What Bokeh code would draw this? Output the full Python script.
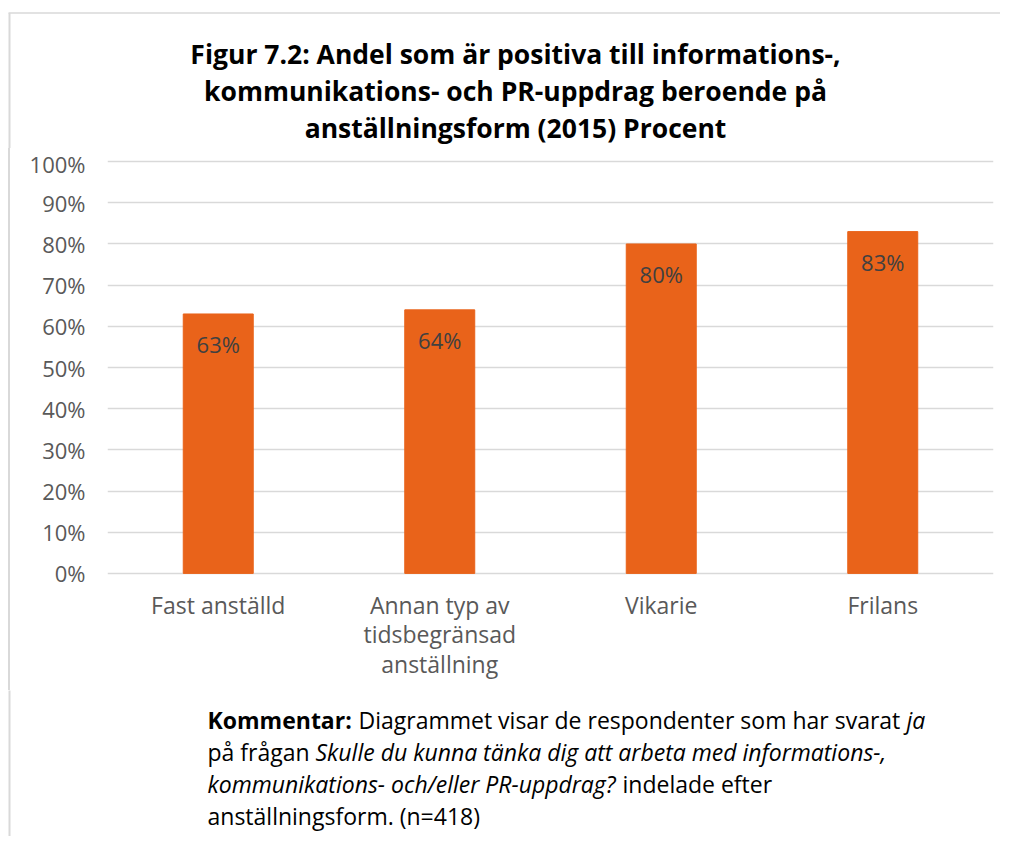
from bokeh.plotting import figure
from bokeh.models import FixedTicker, PrintfTickFormatter, ColumnDataSource, Range1d, Spacer
from bokeh.layouts import column, row
from bokeh.embed import file_html
from bokeh.resources import INLINE
from bokeh.core.properties import value

# ---- data ----
categories = ["Fast anställd", "Annan typ av\ntidsbegränsad\nanställning", "Vikarie", "Frilans"]
values = [63, 64, 80, 83]
value_labels = ["63%", "64%", "80%", "83%"]
y_ticks = [0, 10, 20, 30, 40, 50, 60, 70, 80, 90, 100]

title_lines = [
    "Figur 7.2: Andel som är positiva till informations-,",
    "kommunikations- och PR-uppdrag beroende på",
    "anställningsform (2015) Procent",
]

# comment segments
comment_texts = ["Kommentar:", "Diagrammet visar de respondenter som har svarat", "ja",
                 "på frågan", "Skulle du kunna tänka dig att arbeta med informations-,",
                 "kommunikations- och/eller PR-uppdrag?", "indelade efter",
                 "anställningsform. (n=418)"]
comment_styles = ["bold", "normal", "italic", "normal", "italic", "italic", "normal", "normal"]
comment_lines = [0, 0, 0, 1, 1, 2, 2, 3]

# ---- layout constants (page pixels) ----
W, H = 1000, 836
TOP_H = 148            # title strip height
MID_H = 542            # chart strip height
BOT_H = H - TOP_H - MID_H
STRIP_W = 20
FRAME_L, FRAME_R, FRAME_T, FRAME_B = 107, 993, 157, 577
ORANGE = "#E9631A"
GRID = "#D9D9D9"
GRAY_TXT = "#595959"
TICK_FONT = "Open Sans"
BORDER_X, BORDER_Y = 9, 12.5
comment_x = [207, 358, 906, 207, 315, 207, 622, 207]


def pixel_fig(w, h, y0, y1):
    f = figure(width=w, height=h, x_range=Range1d(0, w), y_range=Range1d(y1, y0),
               x_axis_type=None, y_axis_type=None, output_backend="svg",
               toolbar_location=None, min_border=0)
    f.outline_line_color = None
    f.grid.visible = False
    f.background_fill_color = "white"
    f.border_fill_color = "white"
    return f


# ---- title strip ----
pt = pixel_fig(W, TOP_H, 0, TOP_H)
pt.line(x=[BORDER_X - 1, W + 5], y=[BORDER_Y, BORDER_Y], line_color=GRID, line_width=1.5)
pt.line(x=[BORDER_X, BORDER_X], y=[BORDER_Y, TOP_H + 5], line_color=GRID, line_width=2)
tsrc = ColumnDataSource(dict(x=[515] * len(title_lines),
                             y=[53 + 37 * i for i in range(len(title_lines))],
                             t=title_lines))
pt.text(x="x", y="y", text="t", source=tsrc, text_align="center",
        text_baseline="alphabetic", text_font=value("Open Sans"),
        text_font_style="bold", text_font_size="26.5px", text_color="black")

# ---- left border for the chart strip ----
sp1 = Spacer(width=BORDER_X - 1, height=MID_H)
sp_line = Spacer(width=2, height=MID_H, styles={"background-color": GRID})
sp2 = Spacer(width=STRIP_W - BORDER_X - 1, height=MID_H)

# ---- main chart ----
p = figure(width=W - STRIP_W, height=MID_H, x_range=categories, y_range=Range1d(-1, 101),
           output_backend="svg", toolbar_location=None,
           min_border_left=FRAME_L - STRIP_W, min_border_right=W - FRAME_R,
           min_border_top=FRAME_T - TOP_H, min_border_bottom=TOP_H + MID_H - FRAME_B)
p.outline_line_color = None
p.background_fill_color = "white"
p.border_fill_color = "white"

src = ColumnDataSource(dict(cat=categories, val=values, lab=value_labels))
p.vbar(x="cat", top="val", width=0.316, source=src, fill_color=ORANGE, line_color=ORANGE)
p.text(x="cat", y="val", text="lab", source=src, text_align="center",
       text_baseline="middle", y_offset=30, text_font=value(TICK_FONT),
       text_font_size="22px", text_color="#404040")

p.yaxis.ticker = FixedTicker(ticks=y_ticks)
p.yaxis.formatter = PrintfTickFormatter(format="%d%%")
p.yaxis.axis_line_color = None
p.yaxis.major_tick_line_color = None
p.yaxis.minor_tick_line_color = None
p.yaxis.major_tick_out = 0
p.yaxis.major_label_standoff = 22
p.yaxis.major_label_text_font = TICK_FONT
p.yaxis.major_label_text_font_size = "22px"
p.yaxis.major_label_text_color = GRAY_TXT

p.xaxis.axis_line_color = None
p.xaxis.major_tick_line_color = None
p.xaxis.major_tick_out = 0
p.xaxis.major_label_standoff = 11
p.xaxis.major_label_text_font = TICK_FONT
p.xaxis.major_label_text_font_size = "23px"
p.xaxis.major_label_text_color = GRAY_TXT
p.xaxis.major_label_text_line_height = 0.93

p.xgrid.grid_line_color = None
p.ygrid.grid_line_color = GRID
p.ygrid.grid_line_width = 1.5

# ---- comment strip ----
pc = pixel_fig(W, BOT_H, TOP_H + MID_H, H)
pc.line(x=[BORDER_X, BORDER_X], y=[TOP_H + MID_H - 5, H + 5], line_color=GRID, line_width=2)
for style in ("normal", "bold", "italic"):
    idx = [i for i, s in enumerate(comment_styles) if s == style]
    csrc = ColumnDataSource(dict(x=[comment_x[i] for i in idx],
                                 y=[719.5 + 32 * comment_lines[i] for i in idx],
                                 t=[comment_texts[i] for i in idx]))
    pc.text(x="x", y="y", text="t", source=csrc, text_align="left",
            text_baseline="alphabetic", text_font=value("Open Sans"),
            text_font_style=style, text_font_size="23px", text_color="black")

layout = column(pt, row(sp1, sp_line, sp2, p, spacing=0), pc, spacing=0)
open("out.html", "w").write(file_html(layout, INLINE))
